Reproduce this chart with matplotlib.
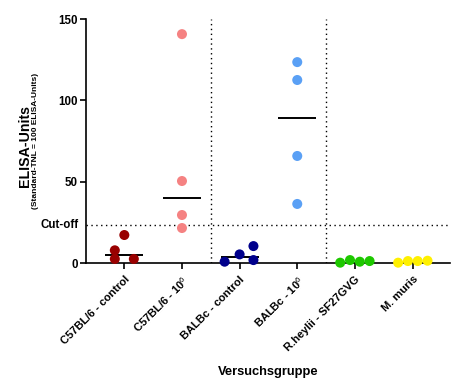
import matplotlib
matplotlib.use("Agg")
import matplotlib.pyplot as plt
import numpy as np

plt.rcParams['font.family'] = ['Liberation Sans', 'DejaVu Sans']
plt.rcParams['mathtext.fontset'] = 'custom'
plt.rcParams['mathtext.rm'] = 'Liberation Sans'

groups = ["C57BL/6 - control", r"C57BL/6 - 10$^{6}$", "BALBc - control",
          r"BALBc - 10$^{6}$", "R.heylii - SF27GVG", "M. muris"]
values = [
    [7.8, 2.5, 17.2, 2.5],
    [140.7, 50.4, 29.5, 21.5],
    [0.8, 5.3, 10.4, 1.8],
    [123.5, 112.5, 65.8, 36.3],
    [0.2, 1.8, 0.8, 1.2],
    [0.2, 1.2, 1.2, 1.4],
]
colors = ["#990000", "#F58282", "#00008C", "#5AA0F5", "#1EC800", "#FFF000"]
cutoff = 23.4
yticks = [0, 50, 100, 150]

# horizontal spread of overlapping dots (layout, category units)
spread = [
    [-0.165, -0.165, 0.0, 0.165],
    [0.0, 0.0, 0.0, 0.0],
    [-0.26, 0.0, 0.24, 0.24],
    [0.0, 0.0, 0.0, 0.0],
    [-0.255, -0.085, 0.085, 0.255],
    [-0.25, -0.08, 0.09, 0.26],
]
show_median = [True, True, True, True, False, False]

fig = plt.figure(figsize=(4.6, 3.8), dpi=100)
ax = fig.add_axes([86/460, 1-263/380, (450-86)/460, (263-19)/380])

for i, (vals, col) in enumerate(zip(values, colors)):
    xs = i + np.array(spread[i])
    ax.scatter(xs, vals, s=52, color=col, edgecolors='none', zorder=3, clip_on=False)
    if show_median[i]:
        m = np.median(vals)
        ax.plot([i-0.33, i+0.33], [m, m], color='black', lw=1.4, zorder=2,
                solid_capstyle='butt')

ax.axhline(cutoff, color='black', ls=(0, (1, 2.5)), lw=1.0, zorder=1)
for xv in [1.5, 3.5]:
    ax.axvline(xv, color='black', ls=(0, (1, 2.5)), lw=1.0, zorder=1)

ax.set_xlim(-0.665, 5.65)
ax.set_ylim(0, 150)
ax.set_yticks(yticks)
ax.set_yticklabels([str(t) for t in yticks], fontsize=8.3, fontweight='bold')
ax.text(-0.02, cutoff, "Cut-off", transform=ax.get_yaxis_transform(),
        ha='right', va='center', fontsize=8.3, fontweight='bold')
ax.set_xticks(range(len(groups)))
ax.set_xticklabels(groups, rotation=45, ha='right', rotation_mode='anchor',
                   fontsize=8, fontweight='bold')

for s in ['top', 'right']:
    ax.spines[s].set_visible(False)
for s in ['left', 'bottom']:
    ax.spines[s].set_linewidth(1.2)
ax.tick_params(axis='both', length=4, width=1.2, pad=2)
ax.tick_params(axis='x', pad=4)

fig.text(25/460, 1-146/380, "ELISA-Units", rotation=90, ha='center', va='center',
         fontsize=10.2, fontweight='bold')
fig.text(36/460, 1-141/380, "(Standard-TNL = 100 ELISA-Units)", rotation=90,
         ha='center', va='center', fontsize=6.0, fontweight='bold')
fig.text(268/460, 1-372/380, "Versuchsgruppe", ha='center', va='center',
         fontsize=9.3, fontweight='bold')

fig.savefig("out.png", dpi=100)
